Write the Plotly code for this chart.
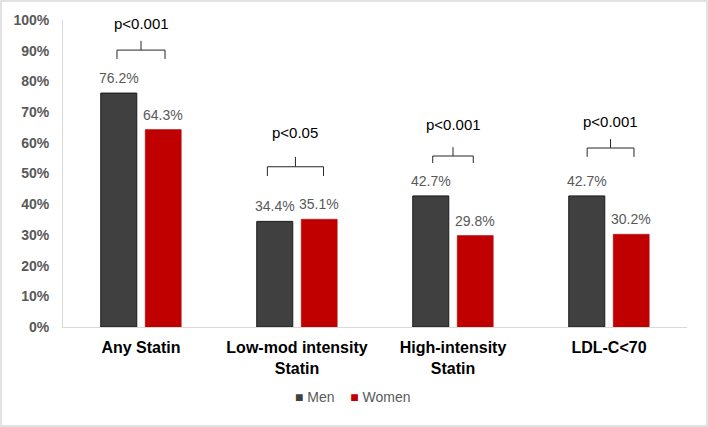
import plotly.graph_objects as go

categories = ["Any Statin", "Low-mod intensity<br>Statin", "High-intensity<br>Statin", "LDL-C<70"]
series_names = ["Men", "Women"]
series_colors = ["#404040", "#C00000"]
men = [76.2, 34.4, 42.7, 42.7]
women = [64.3, 35.1, 29.8, 30.2]
p_labels = ["p<0.001", "p<0.05", "p<0.001", "p<0.001"]
# brace geometry (percent units): bar-end level, horizontal level, peak level, text level, half width (category units)
brace_end = [87.3, 49.2, 53.4, 55.4]
brace_mid = [90.2, 52.2, 55.7, 58.3]
brace_peak = [93.2, 55.4, 58.6, 61.2]
brace_text = [99.0, 63.2, 65.8, 66.8]
brace_half = [0.154, 0.18, 0.13, 0.15]
brace_center = [0.0, -0.01, 0.0, 0.01]

fig = go.Figure()
for name, vals, col, lc, lw in [(series_names[0], men, series_colors[0], "#1a1a1a", 1),
                                (series_names[1], women, series_colors[1], "#b00000", 0.5)]:
    fig.add_bar(name=name, x=categories, y=vals, showlegend=False, hoverinfo="skip",
                marker=dict(color=col, line=dict(color=lc, width=lw)))

# value labels above the bars
for vals, xs in [(men, -22), (women, 22)]:
    for c, v in zip(categories, vals):
        fig.add_annotation(x=c, y=v, text=f"{v:.1f}%", showarrow=False, xref="x", yref="y",
                           xshift=xs, yshift=5, yanchor="bottom",
                           font=dict(color="#595959", size=14, family="Liberation Sans"))

for i in range(len(categories)):
    c = i + brace_center[i]
    h = brace_half[i]
    path = (f"M {c-h},{brace_end[i]} L {c-h},{brace_mid[i]} L {c},{brace_mid[i]} "
            f"L {c},{brace_peak[i]} M {c},{brace_mid[i]} L {c+h},{brace_mid[i]} L {c+h},{brace_end[i]}")
    fig.add_shape(type="path", path=path, xref="x", yref="y", line=dict(color="#262626", width=1))
    fig.add_annotation(x=c, y=brace_text[i], text=p_labels[i], showarrow=False, xref="x", yref="y",
                       font=dict(color="#000000", size=15, family="Liberation Sans"))

W, H = 708, 427
ml, mr, mt, mb = 63, 21, 20, 100
pw, ph = W - ml - mr, H - mt - mb
fig.add_shape(type="rect", xref="paper", yref="paper",
              x0=-(ml - 1) / pw, x1=1 + (mr - 1) / pw, y0=-(mb - 1) / ph, y1=1 + (mt - 1) / ph,
              line=dict(color="#d9d9d9", width=1.5))

# legend drawn as text with coloured squares
legend_text = "&nbsp;&nbsp;&nbsp;&nbsp;".join(
    f"<span style='color:{col}'>■</span> <span style='color:#595959'>{nm}</span>"
    for nm, col in zip(series_names, series_colors))
fig.add_annotation(xref="paper", yref="paper", x=(353 - ml) / pw, y=-(397 - (H - mb)) / ph,
                   text=legend_text, showarrow=False, xanchor="center", yanchor="middle",
                   font=dict(size=14, family="Liberation Sans"))

fig.update_layout(
    width=W, height=H, margin=dict(l=ml, r=mr, t=mt, b=mb, autoexpand=False),
    paper_bgcolor="white", plot_bgcolor="white",
    barmode="group", bargap=0.43, bargroupgap=0.19,
    font=dict(family="Liberation Sans"),
    showlegend=False,
    xaxis=dict(showline=True, linecolor="#d9d9d9", linewidth=1, ticks="", automargin=False,
               ticklabelstandoff=6,
               tickfont=dict(color="#000000", size=16, family="Liberation Sans"),
               showgrid=False,
               tickvals=categories,
               ticktext=[f"<b>{c.replace('<br>', '</b><br><b>')}</b>" for c in categories]),
    yaxis=dict(range=[0, 100], showgrid=False, zeroline=False, automargin=False,
               showline=True, linecolor="#d9d9d9", linewidth=1, ticklabelstandoff=10,
               tickvals=list(range(0, 101, 10)),
               ticktext=[f"<b>{v}%</b>" for v in range(0, 101, 10)],
               tickfont=dict(color="#595959", size=14, family="Liberation Sans")),
)

fig.write_html("out.html", config={"displayModeBar": False},
               post_script="document.body.style.margin='0';document.body.style.overflow='hidden';")
